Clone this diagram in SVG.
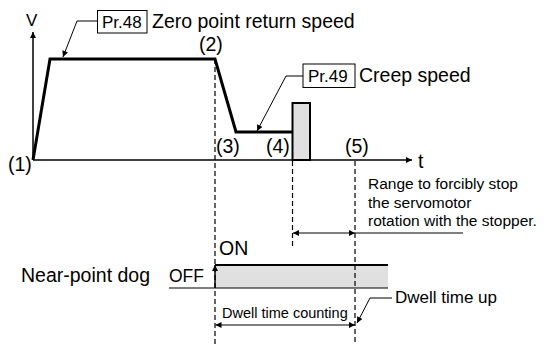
<svg xmlns="http://www.w3.org/2000/svg" width="550" height="345" viewBox="0 0 550 345">
<style>
text{font-family:"Liberation Sans",Arial,sans-serif;fill:#000}
.lbl{font-size:19.5px}
.pr{font-size:17px}
.thin{stroke:#000;stroke-width:1;fill:none}
.axis{stroke:#000;stroke-width:1.5;fill:none}
.dash{stroke:#000;stroke-width:1.2;fill:none;stroke-dasharray:5 3}
.prof{stroke:#000;stroke-width:3;fill:none;stroke-linejoin:miter}
.box{fill:#fff;stroke:#000;stroke-width:1}
</style>
<defs>
<marker id="ah" viewBox="0 0 10 10" refX="10" refY="5" markerWidth="9" markerHeight="6" markerUnits="userSpaceOnUse" orient="auto-start-reverse">
<path d="M0,0 L10,5 L0,10 z" fill="#000"/>
</marker>
</defs>
<g id="axes">
<line class="axis" x1="33" y1="160" x2="33" y2="32" marker-end="url(#ah)"/>
<line class="axis" x1="33" y1="160" x2="412" y2="160" marker-end="url(#ah)"/>
<text x="26" y="26" style="font-size:17px">V</text>
<text class="lbl" x="418" y="168">t</text>
</g>
<g id="stopper">
<rect x="292.5" y="103" width="17.5" height="57" fill="#e0e0e0" stroke="#000" stroke-width="2"/>
</g>
<g id="profile">
<polyline class="prof" points="33,160 50,59 215,59 236,132 292.5,132"/>
</g>
<g id="points">
<text class="lbl" x="8" y="171">(1)</text>
<text class="lbl" x="199" y="51">(2)</text>
<text class="lbl" x="216" y="153">(3)</text>
<text class="lbl" x="266" y="153">(4)</text>
<text class="lbl" x="345" y="153">(5)</text>
</g>
<g id="pr48">
<rect class="box" x="97.5" y="10.5" width="49.5" height="22.5"/>
<text class="pr" x="102" y="28">Pr.48</text>
<text class="lbl" x="152" y="28">Zero point return speed</text>
</g>
<g id="pr49">
<rect class="box" x="303" y="64" width="52" height="23.5"/>
<text class="pr" x="308" y="82">Pr.49</text>
<text class="lbl" x="359" y="82">Creep speed</text>
</g>
<g id="range-note">
<text x="368" y="189" style="font-size:15.5px">Range to forcibly stop</text>
<text x="368" y="207.5" style="font-size:15.5px">the servomotor</text>
<text x="368" y="226" style="font-size:15.5px">rotation with the stopper.</text>
</g>
<g id="near-point-dog">
<text class="lbl" x="21" y="282">Near-point dog</text>
<text x="169" y="282" style="font-size:17.5px">OFF</text>
<text class="lbl" x="219" y="255">ON</text>
<rect x="215" y="265" width="173" height="23" fill="#e0e0e0"/>
<line x1="169" y1="288" x2="388" y2="288" stroke="#000" stroke-width="1.2"/>
<line x1="215" y1="265" x2="388" y2="265" stroke="#000" stroke-width="2.2"/>
<line x1="215" y1="288" x2="215" y2="265" stroke="#000" stroke-width="1.5" marker-end="url(#ah)"/>
</g>
<g id="dwell">
<text x="222" y="318" style="font-size:14.5px">Dwell time counting</text>
<text x="395" y="303" style="font-size:17px">Dwell time up</text>
</g>
<g id="connectors">
<line class="dash" x1="215" y1="59" x2="215" y2="345"/>
<line class="dash" x1="292.5" y1="161" x2="292.5" y2="248"/>
<line class="dash" x1="355" y1="161" x2="355" y2="345"/>
<polyline class="thin" points="97,21 77,21 63,57" marker-end="url(#ah)"/>
<polyline class="thin" points="303,76 286,76 257,131" marker-end="url(#ah)"/>
<line class="thin" x1="293" y1="233" x2="355" y2="233" marker-start="url(#ah)" marker-end="url(#ah)"/>
<line class="thin" x1="355" y1="233" x2="463" y2="233"/>
<line class="thin" x1="215.5" y1="325" x2="355" y2="325" marker-start="url(#ah)" marker-end="url(#ah)"/>
<polyline class="thin" points="392,298 370,298 357,323" marker-end="url(#ah)"/>
</g>
</svg>
